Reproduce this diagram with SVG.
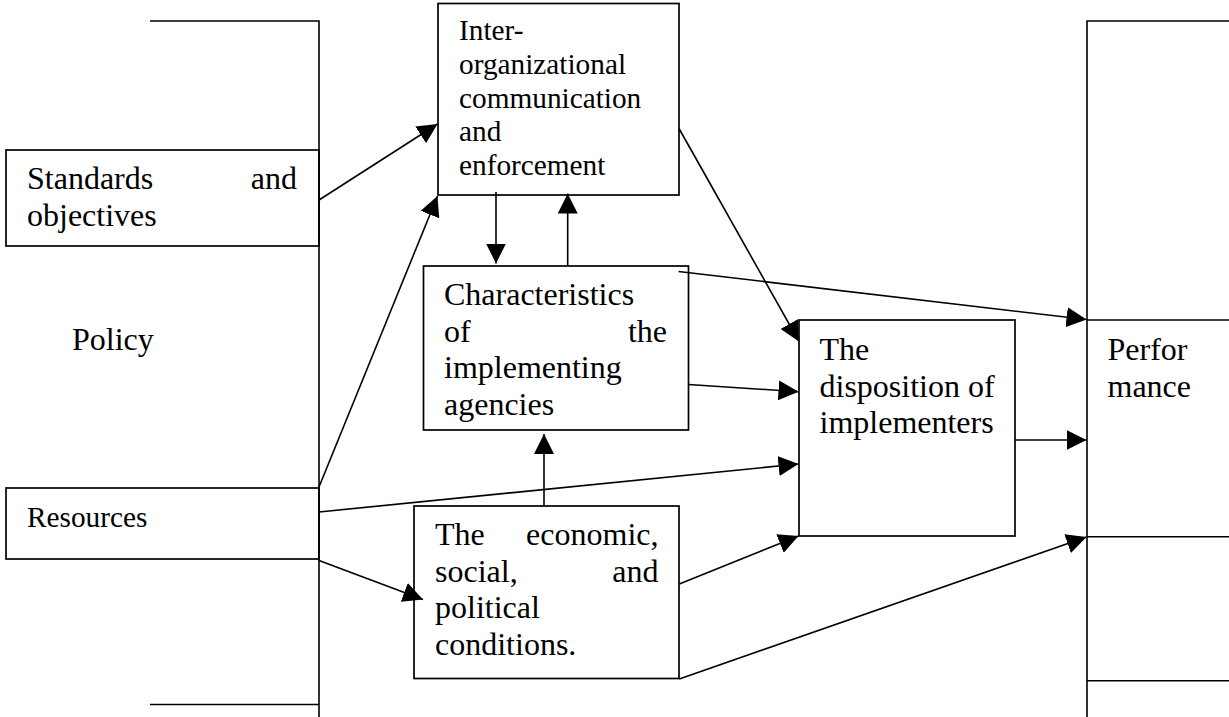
<svg xmlns="http://www.w3.org/2000/svg" width="1229" height="717" viewBox="0 0 1229 717">
<style>
.box{fill:none;stroke:#000;stroke-width:1.7}
.ln{fill:none;stroke:#000;stroke-width:1.6}
.t{font-family:"Liberation Serif","Times New Roman",serif;font-size:32px;fill:#000}
.s{font-size:29.3px}
</style>
<defs>
<marker id="ah" markerUnits="userSpaceOnUse" markerWidth="20" markerHeight="20" refX="20" refY="10" orient="auto" viewBox="0 0 20 20">
<path d="M0,0 L20,10 L0,20 z" fill="#000"/>
</marker>
</defs>
<rect width="1229" height="717" fill="#fff"/>
<g id="policy">
<path class="ln" d="M150,21 H319 V717 M150,704.5 H319"/>
<text class="t" x="72" y="350">Policy</text>
</g>
<g id="standards">
<rect class="box" x="6" y="150" width="313" height="96"/>
<text class="t" x="27" y="189">Standards</text>
<text class="t" x="297" y="189" text-anchor="end">and</text>
<text class="t" x="27" y="226">objectives</text>
</g>
<g id="resources">
<rect class="box" x="6" y="488" width="313" height="71"/>
<text class="t s" x="27" y="527">Resources</text>
</g>
<g id="inter">
<rect class="box" x="438" y="3.5" width="241" height="191.5"/>
<text class="t s" x="459" y="40">Inter-</text>
<text class="t s" x="459" y="74">organizational</text>
<text class="t s" x="459" y="107.5">communication</text>
<text class="t s" x="459" y="141">and</text>
<text class="t s" x="459" y="175">enforcement</text>
</g>
<g id="characteristics">
<rect class="box" x="423.5" y="266" width="265" height="164"/>
<text class="t" x="444" y="305">Characteristics</text>
<text class="t" x="444" y="341.7">of</text>
<text class="t" x="667" y="341.7" text-anchor="end">the</text>
<text class="t" x="444" y="378.3">implementing</text>
<text class="t" x="444" y="415">agencies</text>
</g>
<g id="economic">
<rect class="box" x="414" y="506" width="265" height="172.5"/>
<text class="t" x="435" y="545">The</text>
<text class="t" x="658.5" y="545" text-anchor="end">economic,</text>
<text class="t" x="435" y="581.7">social,</text>
<text class="t" x="658.5" y="581.7" text-anchor="end">and</text>
<text class="t" x="435" y="618.3">political</text>
<text class="t" x="435" y="655">conditions.</text>
</g>
<g id="disposition">
<rect class="box" x="799" y="320" width="216" height="216"/>
<text class="t" x="819.5" y="360">The</text>
<text class="t" x="819.5" y="396.7">disposition of</text>
<text class="t" x="819.5" y="433.3">implementers</text>
</g>
<g id="performance">
<path class="ln" d="M1229,21 H1087 V717 M1087,320 H1229 M1087,536.7 H1229 M1087,680.7 H1229"/>
<text class="t" x="1107.5" y="360">Perfor</text>
<text class="t" x="1107.5" y="396.7">mance</text>
</g>
<g id="connectors" class="ln" marker-end="url(#ah)">
<line x1="319" y1="200" x2="437.5" y2="124"/>
<line x1="319" y1="487" x2="437.5" y2="196"/>
<line x1="319" y1="512" x2="798.5" y2="464"/>
<line x1="319" y1="560.5" x2="423" y2="599.5"/>
<line x1="544" y1="506" x2="544" y2="434"/>
<line x1="496" y1="192" x2="496" y2="263.5"/>
<line x1="567.7" y1="266" x2="567.7" y2="193.5"/>
<line x1="678.5" y1="271.5" x2="1086.5" y2="319.5"/>
<line x1="688.5" y1="384.5" x2="798.5" y2="391.7"/>
<line x1="679.3" y1="129" x2="799" y2="341.5"/>
<line x1="679.3" y1="584" x2="798.5" y2="536"/>
<line x1="1015" y1="440" x2="1086.5" y2="440"/>
<line x1="679.3" y1="679" x2="1086.5" y2="537"/>
</g>
</svg>
